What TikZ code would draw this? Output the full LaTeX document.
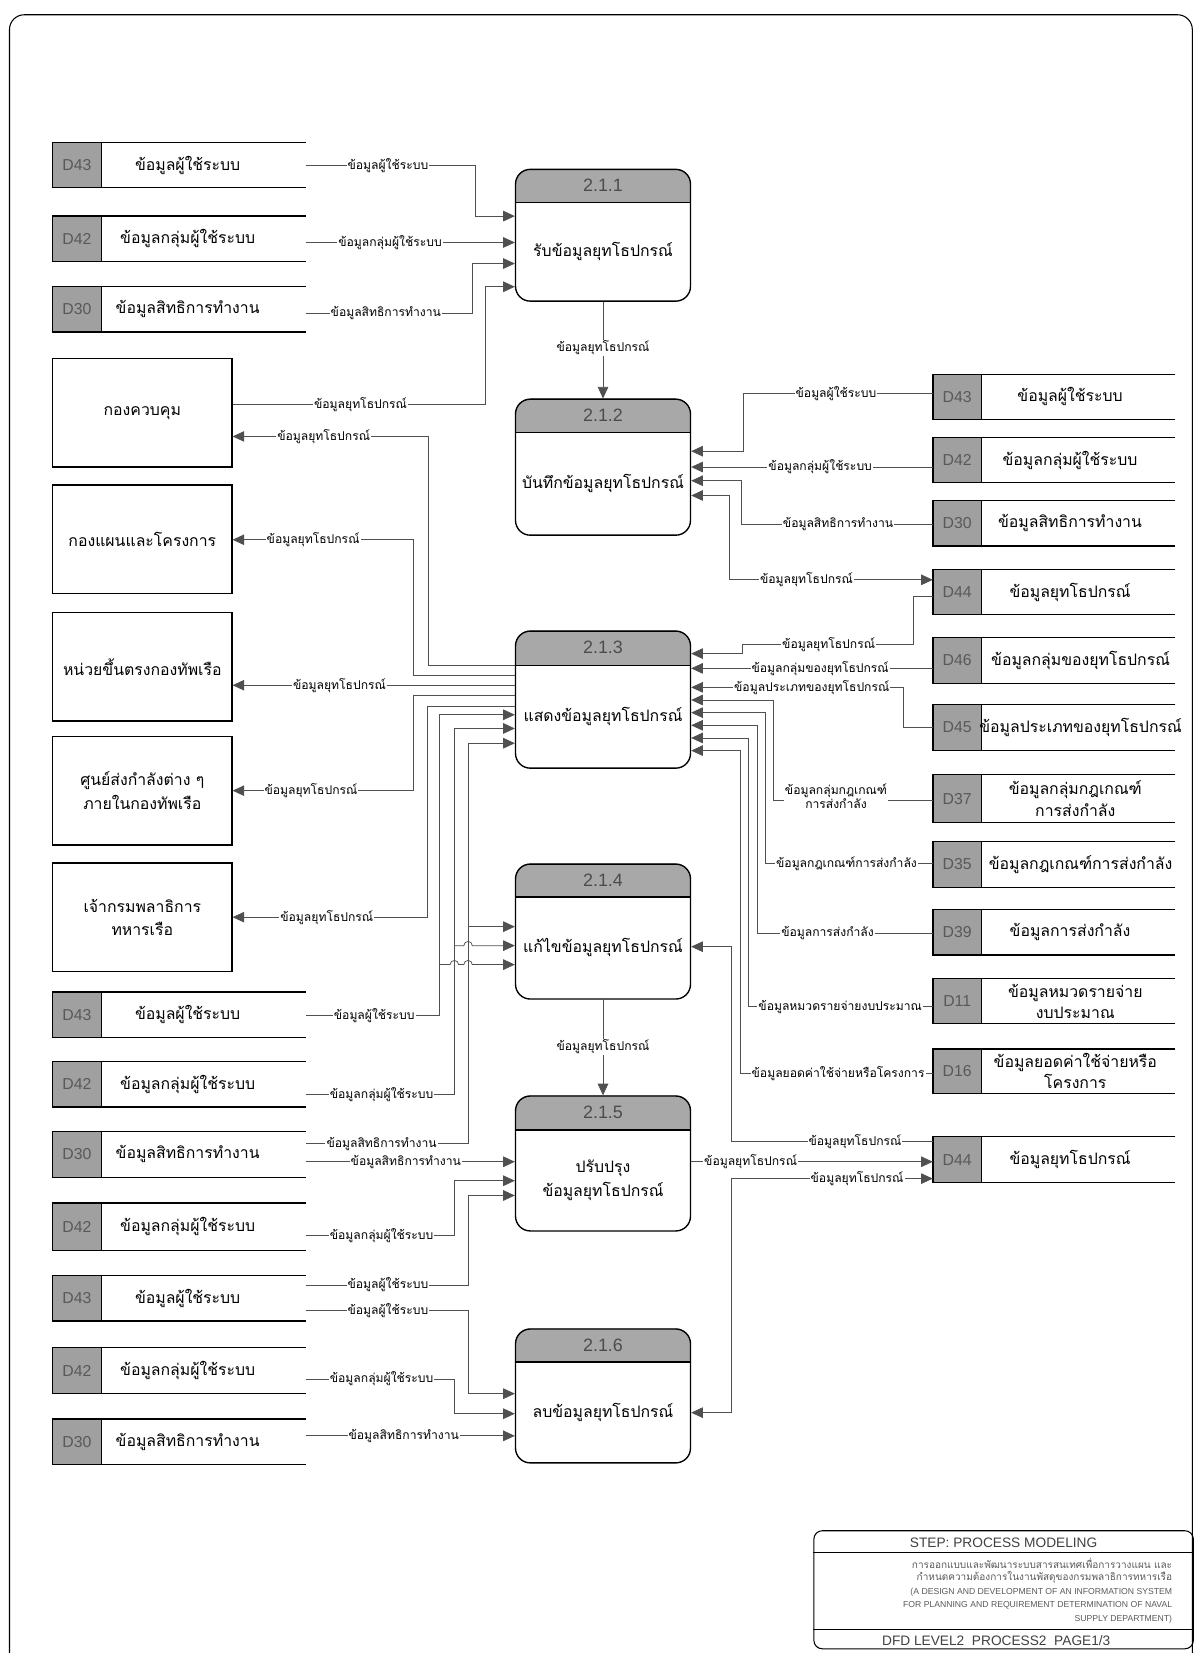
\documentclass[tikz,border=0pt]{standalone}
\usepackage{fontspec}
\setmainfont{Loma}[Script=Thai]
\newfontfamily\arialf{Liberation Sans}
\usetikzlibrary{arrows.meta,positioning,calc}
\definecolor{hdrgray}{HTML}{A8A8A8}
\definecolor{idgray}{HTML}{A0A0A0}
\definecolor{flowgray}{HTML}{505050}

\tikzset{
  proc/.style={draw, line width=1.3pt, rounded corners=14pt, minimum width=166pt, inner sep=0pt},
  ext/.style={draw, line width=1.3pt, minimum width=170pt, minimum height=103pt, align=center, font=\fontsize{15}{22}\selectfont},
  storefrm/.style={inner sep=0pt},
  storeline/.style={line width=1.2pt},
  idtxt/.style={font=\arialf\fontsize{15}{17}\selectfont, text=black!65},
  stxt/.style={font=\fontsize{15}{20}\selectfont, align=center},
  pnum/.style={font=\arialf\fontsize{17}{19}\selectfont, text=black!70},
  ptxt/.style={font=\fontsize{15}{22}\selectfont, align=center},
  flow/.style={draw=flowgray, line width=0.7pt},
  arr/.style={-{Triangle[length=11pt,width=10pt]}},
  biarr/.style={{Triangle[length=11pt,width=10pt]}-{Triangle[length=11pt,width=10pt]}},
  lbl/.style={font=\fontsize{11.5}{13}\selectfont, fill=white, inner sep=1pt, align=center},
  ttl/.style={font=\arialf\fontsize{13}{15}\selectfont, text=black!75},
  tsm/.style={font=\fontsize{9.5}{11}\selectfont, text=black!65, anchor=east, inner sep=0pt},
  tsmen/.style={font=\arialf\fontsize{8.2}{9}\selectfont, text=black!65, anchor=east, inner sep=0pt}
}

% process bubble: name, top, bottom, header line, number, text
\newcommand\dfdproc[6]{%
  \begin{scope}
    \clip[rounded corners=14pt] (489,#2) rectangle (655,#3);
    \fill[hdrgray] (489,#2) rectangle (655,#4);
  \end{scope}
  \node[proc, minimum height={(#3-#2)*1pt}, anchor=north] (#1) at (572,#2) {};
  \draw[line width=1.3pt] (#1.west |- 0,#4) -- (#1.east |- 0,#4);
  \node[pnum] (#1-n) at (572,{(#2+#4)/2}) {#5};
  \node[ptxt] (#1-t) at (572,{(#4+#3)/2}) {#6};
}

% data store: name, left, right, top, bottom, id, text, text offset
\newcommand\dfdstore[8]{%
  \node[storefrm, minimum width={(#3-#2)*1pt}, minimum height={(#5-#4)*1pt}] (#1) at ({(#2+#3)/2},{(#4+#5)/2}) {};
  \fill[idgray] (#2,#4) rectangle ({#2+46},#5);
  \draw[storeline] (#3,#4) -- (#2,#4) -- (#2,#5) -- (#3,#5);
  \draw[line width=0.8pt] ({#2+46},#4) -- ({#2+46},#5);
  \node[idtxt] (#1-id) at ({#2+23},{(#4+#5)/2}) {#6};
  \node[stxt] (#1-t) at ({#2+#8},{(#4+#5)/2}) {#7};
}

\begin{document}
\begin{tikzpicture}[x=1pt,y=-1pt]
  \useasboundingbox (0,0) rectangle (1137,1568);
  \draw[line width=1pt, rounded corners=14pt] (9,1568) -- (9,14) -- (1131,14) -- (1131,1568);

  % processes
  \dfdproc{p211}{160}{285}{192}{2.1.1}{รับข้อมูลยุทโธปกรณ์}
  \dfdproc{p212}{378}{507}{410}{2.1.2}{บันทึกข้อมูลยุทโธปกรณ์}
  \dfdproc{p213}{598}{728}{631}{2.1.3}{แสดงข้อมูลยุทโธปกรณ์}
  \dfdproc{p214}{819}{947}{851}{2.1.4}{แก้ไขข้อมูลยุทโธปกรณ์}
  \dfdproc{p215}{1039}{1167}{1072}{2.1.5}{ปรับปรุง\\ข้อมูลยุทโธปกรณ์}
  \dfdproc{p216}{1260}{1387}{1292}{2.1.6}{ลบข้อมูลยุทโธปกรณ์}

  % stores, left
  \dfdstore{sA43}{50}{290}{135}{178}{D43}{ข้อมูลผู้ใช้ระบบ}{128}
  \dfdstore{sA42}{50}{290}{205}{248}{D42}{ข้อมูลกลุ่มผู้ใช้ระบบ}{128}
  \dfdstore{sA30}{50}{290}{272}{315}{D30}{ข้อมูลสิทธิการทำงาน}{128}
  \dfdstore{sB43}{50}{290}{941}{984}{D43}{ข้อมูลผู้ใช้ระบบ}{128}
  \dfdstore{sB42}{50}{290}{1007}{1050}{D42}{ข้อมูลกลุ่มผู้ใช้ระบบ}{128}
  \dfdstore{sB30}{50}{290}{1073}{1117}{D30}{ข้อมูลสิทธิการทำงาน}{128}
  \dfdstore{sC42}{50}{290}{1141}{1186}{D42}{ข้อมูลกลุ่มผู้ใช้ระบบ}{128}
  \dfdstore{sC43}{50}{290}{1210}{1253}{D43}{ข้อมูลผู้ใช้ระบบ}{128}
  \dfdstore{sD42}{50}{290}{1278}{1322}{D42}{ข้อมูลกลุ่มผู้ใช้ระบบ}{128}
  \dfdstore{sD30}{50}{290}{1346}{1389}{D30}{ข้อมูลสิทธิการทำงาน}{128}

  % stores, right
  \dfdstore{sR43}{885}{1115}{355}{398}{D43}{ข้อมูลผู้ใช้ระบบ}{130}
  \dfdstore{sR42}{885}{1115}{415}{458}{D42}{ข้อมูลกลุ่มผู้ใช้ระบบ}{130}
  \dfdstore{sR30}{885}{1115}{475}{518}{D30}{ข้อมูลสิทธิการทำงาน}{130}
  \dfdstore{sR44}{885}{1115}{540}{583}{D44}{ข้อมูลยุทโธปกรณ์}{130}
  \dfdstore{sR46}{885}{1115}{605}{648}{D46}{ข้อมูลกลุ่มของยุทโธปกรณ์}{140}
  \dfdstore{sR45}{885}{1115}{668}{712}{D45}{ข้อมูลประเภทของยุทโธปกรณ์}{140}
  \dfdstore{sR37}{885}{1115}{735}{780}{D37}{ข้อมูลกลุ่มกฎเกณฑ์\\การส่งกำลัง}{135}
  \dfdstore{sR35}{885}{1115}{798}{842}{D35}{ข้อมูลกฎเกณฑ์การส่งกำลัง}{140}
  \dfdstore{sR39}{885}{1115}{863}{906}{D39}{ข้อมูลการส่งกำลัง}{130}
  \dfdstore{sR11}{885}{1115}{928}{971}{D11}{ข้อมูลหมวดรายจ่าย\\งบประมาณ}{135}
  \dfdstore{sR16}{885}{1115}{995}{1037}{D16}{ข้อมูลยอดค่าใช้จ่ายหรือ\\โครงการ}{135}
  \dfdstore{sT44}{885}{1115}{1078}{1122}{D44}{ข้อมูลยุทโธปกรณ์}{130}

  % external entities
  \node[ext] (eCtrl) at (135,391.5) {กองควบคุม};
  \node[ext] (ePlan) at (135,511.5) {กองแผนและโครงการ};
  \node[ext] (eUnit) at (135,632.5) {หน่วยขึ้นตรงกองทัพเรือ};
  \node[ext] (eDepot) at (135,750) {ศูนย์ส่งกำลังต่าง ๆ\\ภายในกองทัพเรือ};
  \node[ext] (eChief) at (135,870) {เจ้ากรมพลาธิการ\\ทหารเรือ};

  % into 2.1.1
  \draw[flow,arr] (sA43.east |- 0,157) -- (451,157) -- (451,205) -- (p211.west |- 0,205);
  \node[lbl] (l1) at (368,157) {ข้อมูลผู้ใช้ระบบ};
  \draw[flow,arr] (sA42.east |- 0,230) -- (p211.west |- 0,230);
  \node[lbl] (l2) at (370,230) {ข้อมูลกลุ่มผู้ใช้ระบบ};
  \draw[flow,arr] (sA30.east |- 0,297) -- (448,297) -- (448,250) -- (p211.west |- 0,250);
  \node[lbl] (l3) at (366,297) {ข้อมูลสิทธิการทำงาน};
  \draw[flow,arr] (eCtrl.east |- 0,384) -- (460,384) -- (460,272) -- (p211.west |- 0,272);
  \node[lbl] (l4) at (342,384) {ข้อมูลยุทโธปกรณ์};
  \draw[flow,arr] (p211.south) -- (p212.north);
  \node[lbl] (l5) at (572,330) {ข้อมูลยุทโธปกรณ์};

  % 2.1.2 and its stores
  \draw[flow,arr] (sR43.west |- 0,373) -- (705,373) -- (705,428) -- (p212.east |- 0,428);
  \node[lbl] (l6) at (793,373) {ข้อมูลผู้ใช้ระบบ};
  \draw[flow,arr] (sR42.west |- 0,443) -- (p212.east |- 0,443);
  \node[lbl] (l7) at (778,443) {ข้อมูลกลุ่มผู้ใช้ระบบ};
  \draw[flow,arr] (sR30.west |- 0,497) -- (703,497) -- (703,456) -- (p212.east |- 0,456);
  \node[lbl] (l8) at (795,497) {ข้อมูลสิทธิการทำงาน};
  \draw[flow,biarr] (p212.east |- 0,470) -- (692,470) -- (692,550) -- (sR44.west |- 0,550);
  \node[lbl] (l9) at (765,550) {ข้อมูลยุทโธปกรณ์};

  % stores into 2.1.3
  \draw[flow,arr] (sR44.west |- 0,566) -- (866,566) -- (866,611) -- (704,611) -- (704,620) -- (p213.east |- 0,620);
  \node[lbl] (l10) at (786,611) {ข้อมูลยุทโธปกรณ์};
  \draw[flow,arr] (sR46.west |- 0,634) -- (p213.east |- 0,634);
  \node[lbl] (l11) at (778,634) {ข้อมูลกลุ่มของยุทโธปกรณ์};
  \draw[flow,arr] (sR45.west |- 0,690) -- (857,690) -- (857,652) -- (p213.east |- 0,652);
  \node[lbl] (l12) at (770,652) {ข้อมูลประเภทของยุทโธปกรณ์};
  \draw[flow,arr] (sR37.west |- 0,759) -- (734,759) -- (734,664) -- (p213.east |- 0,664);
  \node[lbl] (l13) at (793,755) {ข้อมูลกลุ่มกฎเกณฑ์\\การส่งกำลัง};
  \draw[flow,arr] (sR35.west |- 0,819) -- (726,819) -- (726,676) -- (p213.east |- 0,676);
  \node[lbl] (l14) at (803,819) {ข้อมูลกฎเกณฑ์การส่งกำลัง};
  \draw[flow,arr] (sR39.west |- 0,885) -- (718,885) -- (718,688) -- (p213.east |- 0,688);
  \node[lbl] (l15) at (785,885) {ข้อมูลการส่งกำลัง};
  \draw[flow,arr] (sR11.west |- 0,955) -- (710,955) -- (710,700) -- (p213.east |- 0,700);
  \node[lbl] (l16) at (797,955) {ข้อมูลหมวดรายจ่ายงบประมาณ};
  \draw[flow,arr] (sR16.west |- 0,1018) -- (702,1018) -- (702,712) -- (p213.east |- 0,712);
  \node[lbl] (l17) at (795,1018) {ข้อมูลยอดค่าใช้จ่ายหรือโครงการ};

  % 2.1.3 out to the entities
  \draw[flow,arr] (p213.west |- 0,631) -- (406,631) -- (406,414) -- (eCtrl.east |- 0,414);
  \node[lbl] (l18) at (307,414) {ข้อมูลยุทโธปกรณ์};
  \draw[flow,arr] (p213.west |- 0,641) -- (392,641) -- (392,512) -- (ePlan.east |- 0,512);
  \node[lbl] (l19) at (297,512) {ข้อมูลยุทโธปกรณ์};
  \draw[flow,arr] (p213.west |- 0,650) -- (eUnit.east |- 0,650);
  \node[lbl] (l20) at (322,650) {ข้อมูลยุทโธปกรณ์};
  \draw[flow,arr] (p213.west |- 0,660) -- (392,660) -- (392,750) -- (eDepot.east |- 0,750);
  \node[lbl] (l21) at (295,750) {ข้อมูลยุทโธปกรณ์};
  \draw[flow,arr] (p213.west |- 0,670) -- (405,670) -- (405,870) -- (eChief.east |- 0,870);
  \node[lbl] (l22) at (310,870) {ข้อมูลยุทโธปกรณ์};

  % lower stores into 2.1.3 and 2.1.4
  \draw[flow,arr] (sB43.east |- 0,963) -- (417,963) -- (417,678) -- (p213.west |- 0,678);
  \node[lbl] (l23) at (355,963) {ข้อมูลผู้ใช้ระบบ};
  \draw[flow,arr] (sB42.east |- 0,1038) -- (431,1038) -- (431,691) -- (p213.west |- 0,691);
  \node[lbl] (l24) at (362,1038) {ข้อมูลกลุ่มผู้ใช้ระบบ};
  \draw[flow,arr] (sB30.east |- 0,1085) -- (444,1085) -- (444,705) -- (p213.west |- 0,705);
  \node[lbl] (l25) at (362,1085) {ข้อมูลสิทธิการทำงาน};
  \coordinate (j30) at (444,879);
  \coordinate (j42) at (431,897);
  \coordinate (j43) at (417,915);
  \draw[flow,arr] (j30) -- (p214.west |- j30);
  \draw[flow,arr] (j42) -- (440,897) arc[start angle=180,end angle=0,radius=4pt] -- (p214.west |- j42);
  \draw[flow,arr] (j43) -- (427,915) arc[start angle=180,end angle=0,radius=4pt] -- (440,915) arc[start angle=180,end angle=0,radius=4pt] -- (p214.west |- j43);

  % 2.1.4, 2.1.5, 2.1.6 and D44
  \draw[flow,arr] (p214.south) -- (p215.north);
  \node[lbl] (l26) at (572,993) {ข้อมูลยุทโธปกรณ์};
  \draw[flow,arr] (sT44.west |- 0,1083) -- (694,1083) -- (694,898) -- (p214.east |- 0,898);
  \node[lbl] (l27) at (811,1083) {ข้อมูลยุทโธปกรณ์};
  \draw[flow,arr] (p215.east |- 0,1102) -- (sT44.west |- 0,1102);
  \node[lbl] (l28) at (712,1102) {ข้อมูลยุทโธปกรณ์};
  \draw[flow,biarr] (p216.east |- 0,1340) -- (694,1340) -- (694,1118) -- (sT44.west |- 0,1118);
  \node[lbl] (l29) at (813,1118) {ข้อมูลยุทโธปกรณ์};

  \draw[flow,arr] (sB30.east |- 0,1102) -- (p215.west |- 0,1102);
  \node[lbl] (l30) at (385,1102) {ข้อมูลสิทธิการทำงาน};
  \draw[flow,arr] (sC42.east |- 0,1172) -- (431,1172) -- (431,1120) -- (p215.west |- 0,1120);
  \node[lbl] (l31) at (362,1172) {ข้อมูลกลุ่มผู้ใช้ระบบ};
  \draw[flow,arr] (sC43.east |- 0,1219) -- (444,1219) -- (444,1134) -- (p215.west |- 0,1134);
  \node[lbl] (l32) at (368,1219) {ข้อมูลผู้ใช้ระบบ};
  \draw[flow,arr] (sC43.east |- 0,1243) -- (444,1243) -- (444,1322) -- (p216.west |- 0,1322);
  \node[lbl] (l33) at (368,1243) {ข้อมูลผู้ใช้ระบบ};
  \draw[flow,arr] (sD42.east |- 0,1308) -- (431,1308) -- (431,1341) -- (p216.west |- 0,1341);
  \node[lbl] (l34) at (362,1308) {ข้อมูลกลุ่มผู้ใช้ระบบ};
  \draw[flow,arr] (sD30.east |- 0,1362) -- (p216.west |- 0,1362);
  \node[lbl] (l35) at (383,1362) {ข้อมูลสิทธิการทำงาน};

  % title block
  \node[draw, line width=1pt, rounded corners=8pt, minimum width=360pt, minimum height=112pt, inner sep=0pt] (tblk) at (952,1508) {};
  \draw[line width=0.8pt] (tblk.west |- 0,1473) -- (tblk.east |- 0,1473);
  \draw[line width=0.8pt] (tblk.west |- 0,1546) -- (tblk.east |- 0,1546);
  \node[ttl] (tStep) at (952,1463) {STEP: PROCESS MODELING};
  \node[tsm] (tTh1) at (1112,1483) {การออกแบบและพัฒนาระบบสารสนเทศเพื่อการวางแผน และ};
  \node[tsm] (tTh2) at (1112,1496) {กำหนดความต้องการในงานพัสดุของกรมพลาธิการทหารเรือ};
  \node[tsmen] (tEn1) at (1112,1510) {(A DESIGN AND DEVELOPMENT OF AN INFORMATION SYSTEM};
  \node[tsmen] (tEn2) at (1112,1523) {FOR PLANNING AND REQUIREMENT DETERMINATION OF NAVAL};
  \node[tsmen] (tEn3) at (1112,1536) {SUPPLY DEPARTMENT)};
  \node[ttl] (tPage) at (945,1556) {DFD LEVEL2\ \ PROCESS2\ \ PAGE1/3};
\end{tikzpicture}
\end{document}
